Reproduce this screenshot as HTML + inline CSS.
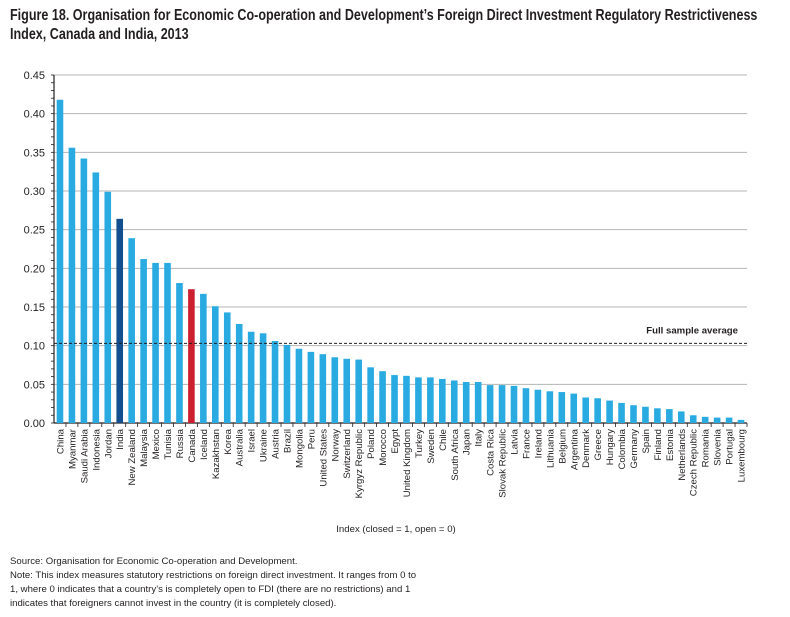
<!DOCTYPE html>
<html><head><meta charset="utf-8"><style>
body{margin:0;background:#fff;width:790px;height:617px;overflow:hidden;font-family:"Liberation Sans",Arial,sans-serif;color:#231f20}
.title{position:absolute;left:10px;top:6px;font-size:15.5px;font-weight:bold;line-height:19px;transform:scaleX(0.81);transform-origin:left top;width:1000px;white-space:nowrap}
.note{position:absolute;left:10px;font-size:9.6px;line-height:14px}
</style></head><body>
<div class="title">Figure 18. Organisation for Economic Co-operation and Development’s Foreign Direct Investment Regulatory Restrictiveness<br>Index, Canada and India, 2013</div>
<svg id="c" width="790" height="617" style="position:absolute;left:0;top:0"></svg>
<div class="note" style="top:555px">Source: Organisation for Economic Co-operation and Development.<br>Note: This index measures statutory restrictions on foreign direct investment. It ranges from 0 to<br>1, where 0 indicates that a country’s is completely open to FDI (there are no restrictions) and 1<br>indicates that foreigners cannot invest in the country (it is completely closed).</div>
<script>
const categories=["China","Myanmar","Saudi Arabia","Indonesia","Jordan","India","New Zealand","Malaysia","Mexico","Tunisia","Russia","Canada","Iceland","Kazakhstan","Korea","Australia","Israel","Ukraine","Austria","Brazil","Mongolia","Peru","United States","Norway","Switzerland","Kyrgyz Republic","Poland","Morocco","Egypt","United Kingdom","Turkey","Sweden","Chile","South Africa","Japan","Italy","Costa Rica","Slovak Republic","Latvia","France","Ireland","Lithuania","Belgium","Argentina","Denmark","Greece","Hungary","Colombia","Germany","Spain","Finland","Estonia","Netherlands","Czech Republic","Romania","Slovenia","Portugal","Luxembourg"];
const values=[0.418,0.356,0.342,0.324,0.299,0.264,0.239,0.212,0.207,0.207,0.181,0.173,0.167,0.151,0.143,0.128,0.118,0.116,0.106,0.101,0.096,0.092,0.089,0.085,0.083,0.082,0.072,0.067,0.062,0.061,0.059,0.059,0.057,0.055,0.053,0.053,0.049,0.049,0.048,0.045,0.043,0.041,0.040,0.038,0.033,0.032,0.029,0.026,0.023,0.021,0.019,0.018,0.015,0.010,0.008,0.007,0.007,0.004];
const yTicks=[0,0.05,0.10,0.15,0.20,0.25,0.30,0.35,0.40,0.45];
const average=0.103;
const svg=document.getElementById('c');const NS='http://www.w3.org/2000/svg';
const X0=54,X1=747,Y0=423,Y1=75,YMAX=0.45;
const band=(X1-X0)/categories.length;
const y=v=>Y0-(v/YMAX)*(Y0-Y1);
const xc=i=>X0+(i+0.5)*band;
function mk(t,a,p){const e=document.createElementNS(NS,t);for(const k in a)e.setAttribute(k,a[k]);(p||svg).appendChild(e);return e;}
yTicks.forEach(t=>{
 const g=mk('line',{x1:X0,x2:X1,y1:y(t),y2:y(t),stroke:t===0?'#231f20':'#b5b5b5','stroke-width':t===0?1.2:1});
 
 
 const l=mk('text',{x:45,y:y(t)+4,'text-anchor':'end','font-size':11,fill:'#231f20'});l.textContent=t.toFixed(2);
 
 
});
for(let v=0;v<=YMAX+1e-9;v+=0.01){mk('line',{x1:X0-3,x2:X0,y1:y(v),y2:y(v),stroke:'#231f20','stroke-width':0.8});}
mk('line',{x1:X0,x2:X0,y1:Y1,y2:Y0,stroke:'#231f20','stroke-width':1.2});
values.forEach((v,i)=>{
 const col=categories[i]==='India'?'#134f8e':categories[i]==='Canada'?'#cc2030':'#29abe2';
 const r=mk('rect',{x:xc(i)-3.3,y:y(v),width:6.6,height:Y0-y(v),fill:col});
 
 
 mk('line',{x1:X0+(i+1)*band,x2:X0+(i+1)*band,y1:Y0,y2:Y0+4,stroke:'#231f20','stroke-width':0.8});
 const t=mk('text',{transform:`translate(${xc(i)+3.5},${Y0+6}) rotate(-90)`,'text-anchor':'end','font-size':9.6,fill:'#231f20'});t.textContent=categories[i];
 
 
});
const a=mk('line',{x1:X0,x2:X1,y1:y(average),y2:y(average),stroke:'#231f20','stroke-width':1,'stroke-dasharray':'3,2'});


const al=mk('text',{x:738,y:y(average)-10,'text-anchor':'end','font-size':9.6,'font-weight':'bold',fill:'#231f20'});al.textContent='Full sample average';


const xt=mk('text',{x:396,y:532,'text-anchor':'middle','font-size':9.6,fill:'#231f20'});xt.textContent='Index (closed = 1, open = 0)';


</script>
</body></html>
